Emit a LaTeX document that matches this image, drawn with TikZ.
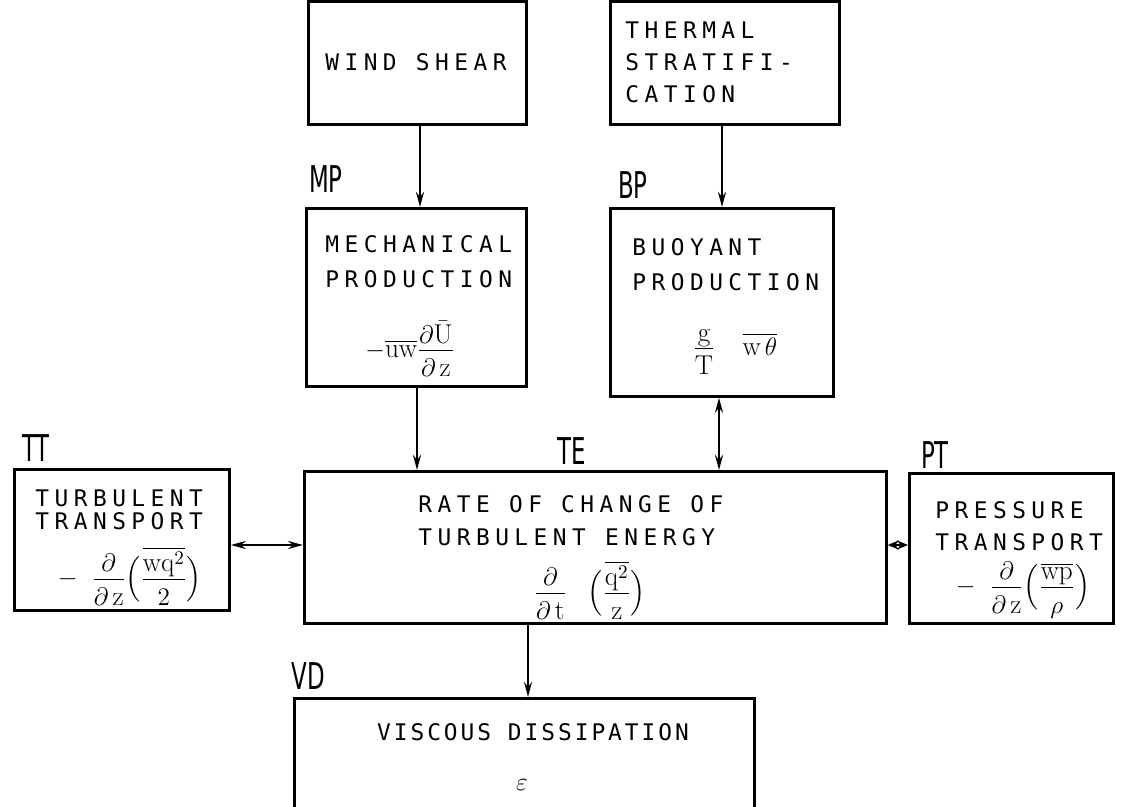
\documentclass[tikz,border=0pt]{standalone}
\usepackage{fontspec}
\usepackage{amsmath}
\newfontfamily\tw[LetterSpace=24]{DejaVu Sans Mono}
\newfontfamily\twn[LetterSpace=13]{DejaVu Sans Mono}
\newfontfamily\lb{DejaVu Sans}
\newcommand{\ffr}[2]{{\textstyle\frac{\textstyle #1\rule[-0.22em]{0pt}{0pt}}{\textstyle\rule{0pt}{0.9em}#2}}}
\usetikzlibrary{arrows.meta}
\begin{document}
\begin{tikzpicture}[x=0.02cm,y=-0.02cm,
  box/.style={draw,line width=1.6pt,inner sep=0pt,anchor=north west},
  txt/.style={font=\tw\fontsize{13}{#1}\selectfont,inner sep=0pt,align=left},
  txt/.default=19.9,
  ctxt/.style={font=\tw\fontsize{13}{18.8}\selectfont,inner sep=0pt,align=center},
  fml/.style={font=\fontsize{15.5}{18}\selectfont,inner sep=0pt},
  tag/.style={font=\lb\fontsize{21}{21}\selectfont,inner sep=0pt,xscale=0.62,transform shape},
  arr/.style={line width=1.4pt,-{Stealth[length=0.3cm,width=0.16cm]}},
  darr/.style={line width=1.4pt,{Stealth[length=0.3cm,width=0.16cm]}-{Stealth[length=0.3cm,width=0.16cm]}},
  sdarr/.style={line width=1.4pt,{Stealth[length=0.22cm,width=0.18cm]}-{Stealth[length=0.22cm,width=0.18cm]}}]
\useasboundingbox (0,0) rectangle (1123,807);
% boxes
\node[box,minimum width=4.36cm,minimum height=2.46cm] (ws) at (307,0) {};
\node[box,minimum width=4.58cm,minimum height=2.46cm] (ts) at (609,0) {};
\node[box,minimum width=4.40cm,minimum height=3.56cm] (mp) at (305,207) {};
\node[box,minimum width=4.46cm,minimum height=3.76cm] (bp) at (609,207) {};
\node[box,minimum width=11.64cm,minimum height=3.04cm] (te) at (303,470) {};
\node[box,minimum width=4.30cm,minimum height=2.82cm] (tt) at (13,468) {};
\node[box,minimum width=4.08cm,minimum height=3.00cm] (pt) at (908,472) {};
\node[box,minimum width=9.20cm,minimum height=2.30cm] (vd) at (293,697) {};
% texts
\node[ctxt] (wst) at (416,62) {WIND SHEAR};
\node[txt=18.2,anchor=west] (tst) at (625,62) {THERMAL\\STRATIFI-\\CATION};
\node[txt,anchor=west] (mpt) at (325,262) {MECHANICAL\\PRODUCTION};
\node[fml] (mpf) at (410,349) {$-\overline{\mathrm{uw}}\ffr{\partial\bar{\mathrm{U}}}{\partial\,\mathrm{z}}$};
\node[txt,anchor=west] (bpt) at (632,265) {BUOYANT\\PRODUCTION};
\node[fml] (bpf) at (735,352) {$\ffr{\mathrm{g}}{\mathrm{T}}\quad\overline{\mathrm{w}\,\theta}$};
\node[txt=18.8,anchor=west] (tet) at (418,521) {RATE OF CHANGE OF\\TURBULENT ENERGY};
\node[fml] (tef) at (590,590) {$\ffr{\partial}{\partial\,\mathrm{t}}\;\;\;\Bigl(\ffr{\overline{\mathrm{q}^2}}{\mathrm{z}}\Bigr)$};
\node[txt=13.1,anchor=west] (ttt) at (35,510) {TURBULENT\\TRANSPORT};
\node[fml] (ttf) at (130,576) {$-\;\;\ffr{\partial}{\partial\,\mathrm{z}}\Bigl(\ffr{\overline{\mathrm{wq}^2}}{2}\Bigr)$};
\node[txt=18.2,anchor=west] (ptt) at (935,526) {PRESSURE\\TRANSPORT};
\node[fml] (ptf) at (1023,590) {$-\;\;\ffr{\partial}{\partial\,\mathrm{z}}\Bigl(\ffr{\overline{\mathrm{wp}}}{\rho}\Bigr)$};
\node[font=\twn\fontsize{13}{18}\selectfont,inner sep=0pt] (vdt) at (533,732) {VISCOUS DISSIPATION};
\node[fml] (vdf) at (522,785) {$\varepsilon$};
% tags
\node[tag] (mpl) at (326,179) {MP};
\node[tag] (bpl) at (633,185) {BP};
\node[tag] (ttl) at (36,448) {TT};
\node[tag] (tel) at (572,451) {TE};
\node[tag] (ptl) at (935,455) {PT};
\node[tag] (vdl) at (308,676) {VD};
% connectors
\draw[arr] (ws.south -| 420,0) -- (mp.north -| 420,0);
\draw[arr] (ts.south -| 722,0) -- (bp.north -| 722,0);
\draw[arr] (mp.south -| 417,0) -- (te.north -| 417,0);
\draw[darr] (bp.south -| 719,0) -- (te.north -| 719,0);
\draw[darr] (tt.east |- 0,545) -- (te.west |- 0,545);
\draw[sdarr] (te.east |- 0,545) -- (pt.west |- 0,545);
\draw[arr] (te.south -| 528,0) -- (vd.north -| 528,0);
\end{tikzpicture}
\end{document}
